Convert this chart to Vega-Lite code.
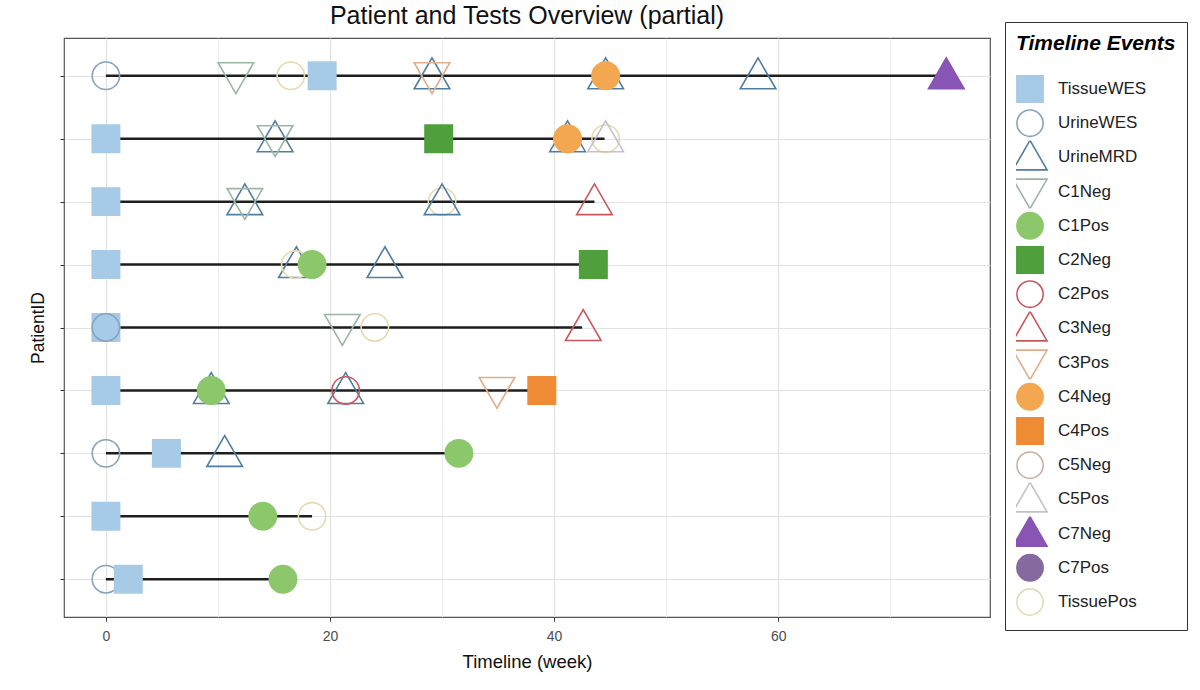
{
  "$schema": "https://vega.github.io/schema/vega-lite/v6.json",
  "autosize": "none",
  "padding": {"left": 64, "top": 38, "right": 210, "bottom": 73},
  "width": 926,
  "height": 579,
  "background": "white",
  "title": {"text": "Patient and Tests Overview (partial)", "fontSize": 25, "fontWeight": "normal", "color": "#111", "anchor": "middle", "offset": -7, "font": "Liberation Sans"},
  "config": {
    "font": "Liberation Sans",
    "view": {"stroke": "#555", "strokeWidth": 1.2}
  },
  "resolve": {"axis": {"x": "independent", "y": "independent"}, "scale": {"x": "shared", "y": "shared"}},
  "datasets": {
    "spans": [
      {"pid": "P01", "start": 0, "end": 74.2},
      {"pid": "P02", "start": 0, "end": 44.5},
      {"pid": "P03", "start": 0, "end": 43.6},
      {"pid": "P04", "start": 0, "end": 43.0},
      {"pid": "P05", "start": 0, "end": 42.5},
      {"pid": "P06", "start": 0, "end": 38.0},
      {"pid": "P07", "start": 0, "end": 31.5},
      {"pid": "P08", "start": 0, "end": 18.4},
      {"pid": "P09", "start": 0, "end": 14.6}
    ],
    "events": [
      {"pid": "P01", "event": "UrineWES", "week": 0},
      {"pid": "P01", "event": "C1Neg", "week": 11.6},
      {"pid": "P01", "event": "TissuePos", "week": 16.5},
      {"pid": "P01", "event": "TissueWES", "week": 19.3},
      {"pid": "P01", "event": "UrineMRD", "week": 29.1},
      {"pid": "P01", "event": "C3Pos", "week": 29.1},
      {"pid": "P01", "event": "UrineMRD", "week": 44.6},
      {"pid": "P01", "event": "C4Neg", "week": 44.6},
      {"pid": "P01", "event": "UrineMRD", "week": 58.2},
      {"pid": "P01", "event": "C7Neg", "week": 75.0},
      {"pid": "P02", "event": "TissueWES", "week": 0},
      {"pid": "P02", "event": "UrineMRD", "week": 15.1},
      {"pid": "P02", "event": "C1Neg", "week": 15.1},
      {"pid": "P02", "event": "C2Neg", "week": 29.7},
      {"pid": "P02", "event": "UrineMRD", "week": 41.2},
      {"pid": "P02", "event": "C4Neg", "week": 41.2},
      {"pid": "P02", "event": "TissuePos", "week": 44.6},
      {"pid": "P02", "event": "C5Pos", "week": 44.6},
      {"pid": "P03", "event": "TissueWES", "week": 0},
      {"pid": "P03", "event": "UrineMRD", "week": 12.4},
      {"pid": "P03", "event": "C1Neg", "week": 12.4},
      {"pid": "P03", "event": "TissuePos", "week": 30.0},
      {"pid": "P03", "event": "UrineMRD", "week": 30.0},
      {"pid": "P03", "event": "C3Neg", "week": 43.6},
      {"pid": "P04", "event": "TissueWES", "week": 0},
      {"pid": "P04", "event": "UrineMRD", "week": 17.0},
      {"pid": "P04", "event": "TissuePos", "week": 16.9},
      {"pid": "P04", "event": "C1Pos", "week": 18.4},
      {"pid": "P04", "event": "UrineMRD", "week": 24.9},
      {"pid": "P04", "event": "C2Neg", "week": 43.5},
      {"pid": "P05", "event": "TissueWES", "week": 0},
      {"pid": "P05", "event": "UrineWES", "week": 0},
      {"pid": "P05", "event": "C1Neg", "week": 21.1},
      {"pid": "P05", "event": "TissuePos", "week": 24.0},
      {"pid": "P05", "event": "C3Neg", "week": 42.6},
      {"pid": "P06", "event": "TissueWES", "week": 0},
      {"pid": "P06", "event": "UrineMRD", "week": 9.4},
      {"pid": "P06", "event": "C1Pos", "week": 9.4},
      {"pid": "P06", "event": "UrineMRD", "week": 21.4},
      {"pid": "P06", "event": "C2Pos", "week": 21.4},
      {"pid": "P06", "event": "C3Pos", "week": 34.9},
      {"pid": "P06", "event": "C4Pos", "week": 38.9},
      {"pid": "P07", "event": "UrineWES", "week": 0},
      {"pid": "P07", "event": "TissueWES", "week": 5.4},
      {"pid": "P07", "event": "UrineMRD", "week": 10.6},
      {"pid": "P07", "event": "C1Pos", "week": 31.5},
      {"pid": "P08", "event": "TissueWES", "week": 0},
      {"pid": "P08", "event": "C1Pos", "week": 14.0},
      {"pid": "P08", "event": "TissuePos", "week": 18.4},
      {"pid": "P09", "event": "UrineWES", "week": 0},
      {"pid": "P09", "event": "TissueWES", "week": 2.0},
      {"pid": "P09", "event": "C1Pos", "week": 15.8}
    ]
  },
  "layer": [
    {
      "data": {"name": "spans"},
      "mark": {"type": "rule", "color": "#1e1e1e", "strokeWidth": 2.5},
      "encoding": {
        "x": {
          "field": "start", "type": "quantitative",
          "scale": {"domain": [-3.74, 78.9], "nice": false, "zero": false},
          "axis": {"orient": "bottom", "values": [10, 30, 50, 70], "labels": false, "ticks": false, "domain": false, "title": null, "grid": true, "gridColor": "#EAEAEA", "gridWidth": 0.8}
        },
        "x2": {"field": "end"},
        "y": {"field": "pid", "type": "nominal", "axis": null, "sort": ["P01", "P02", "P03", "P04", "P05", "P06", "P07", "P08", "P09"], "scale": {"type": "point", "padding": 0.6}}
      }
    },
    {
      "data": {"name": "events"},
      "mark": {"type": "point", "filled": true, "size": 750, "strokeWidth": 1.6, "opacity": 1},
      "encoding": {
        "x": {
          "field": "week", "type": "quantitative",
          "scale": {"domain": [-3.74, 78.9], "nice": false, "zero": false},
          "axis": {
            "orient": "bottom",
            "title": "Timeline (week)",
            "values": [0, 20, 40, 60],
            "domain": false,
            "tickSize": 4,
            "tickColor": "#333",
            "grid": true,
            "gridColor": "#E2E2E2",
            "gridWidth": 1.2,
            "labelFontSize": 14,
            "labelColor": "#4D4D4D",
            "labelPadding": 8,
            "titleFontSize": 18.5,
            "titleFontWeight": "normal",
            "titleColor": "#111",
            "titlePadding": 9
          }
        },
        "y": {
          "field": "pid", "type": "nominal",
          "sort": ["P01", "P02", "P03", "P04", "P05", "P06", "P07", "P08", "P09"],
          "scale": {"type": "point", "padding": 0.6},
          "axis": {
            "orient": "left",
            "title": "PatientID",
            "labels": false,
            "domain": false,
            "tickSize": 4,
            "tickColor": "#333",
            "grid": true,
            "gridColor": "#E2E2E2",
            "gridWidth": 1.2,
            "titleFontSize": 17.5,
            "titleFontWeight": "normal",
            "titleColor": "#111",
            "titlePadding": 12
          }
        },
        "shape": {
          "field": "event", "type": "nominal",
          "scale": {
            "domain": ["TissueWES", "UrineWES", "UrineMRD", "C1Neg", "C1Pos", "C2Neg", "C2Pos", "C3Neg", "C3Pos", "C4Neg", "C4Pos", "C5Neg", "C5Pos", "C7Neg", "C7Pos", "TissuePos"],
            "range": ["square", "circle", "M0,-1.3L1.3,0.95L-1.3,0.95Z", "M0,1.3L1.3,-0.95L-1.3,-0.95Z", "circle", "square", "circle", "M0,-1.3L1.3,0.95L-1.3,0.95Z", "M0,1.3L1.3,-0.95L-1.3,-0.95Z", "circle", "square", "circle", "M0,-1.3L1.3,0.95L-1.3,0.95Z", "M0,-1.3L1.3,0.95L-1.3,0.95Z", "circle", "circle"]
          },
          "legend": {
            "title": "Timeline Events",
            "orient": "none",
            "legendX": 941,
            "legendY": -16,
            "padding": 11,
            "strokeColor": "#333",
            "fillColor": "white",
            "titleFontSize": 21,
            "titleFontWeight": "bold",
            "titleFontStyle": "italic",
            "titleColor": "#000",
            "titlePadding": 18,
            "labelFontSize": 17,
            "labelColor": "#222",
            "labelOffset": 14,
            "symbolSize": 690,
            "symbolStrokeWidth": 1.6,
            "clipHeight": 34,
            "rowPadding": 0.2
          }
        },
        "fill": {
          "field": "event", "type": "nominal",
          "scale": {
            "domain": ["TissueWES", "UrineWES", "UrineMRD", "C1Neg", "C1Pos", "C2Neg", "C2Pos", "C3Neg", "C3Pos", "C4Neg", "C4Pos", "C5Neg", "C5Pos", "C7Neg", "C7Pos", "TissuePos"],
            "range": ["#A7CBE6", "transparent", "transparent", "transparent", "#8CC86B", "#4F9F3D", "transparent", "transparent", "transparent", "#F3A750", "#EF8B34", "transparent", "transparent", "#8955B5", "#85699F", "transparent"]
          }
        },
        "stroke": {
          "field": "event", "type": "nominal",
          "scale": {
            "domain": ["TissueWES", "UrineWES", "UrineMRD", "C1Neg", "C1Pos", "C2Neg", "C2Pos", "C3Neg", "C3Pos", "C4Neg", "C4Pos", "C5Neg", "C5Pos", "C7Neg", "C7Pos", "TissuePos"],
            "range": ["#A7CBE6", "#87A3BD", "#4F7EA0", "#9BB7A3", "#8CC86B", "#4F9F3D", "#C9585C", "#C9585C", "#DFAE8C", "#F3A750", "#EF8B34", "#CBB0A8", "#C5BFD0", "#8955B5", "#85699F", "#E6DAB0"]
          }
        }
      }
    }
  ]
}
